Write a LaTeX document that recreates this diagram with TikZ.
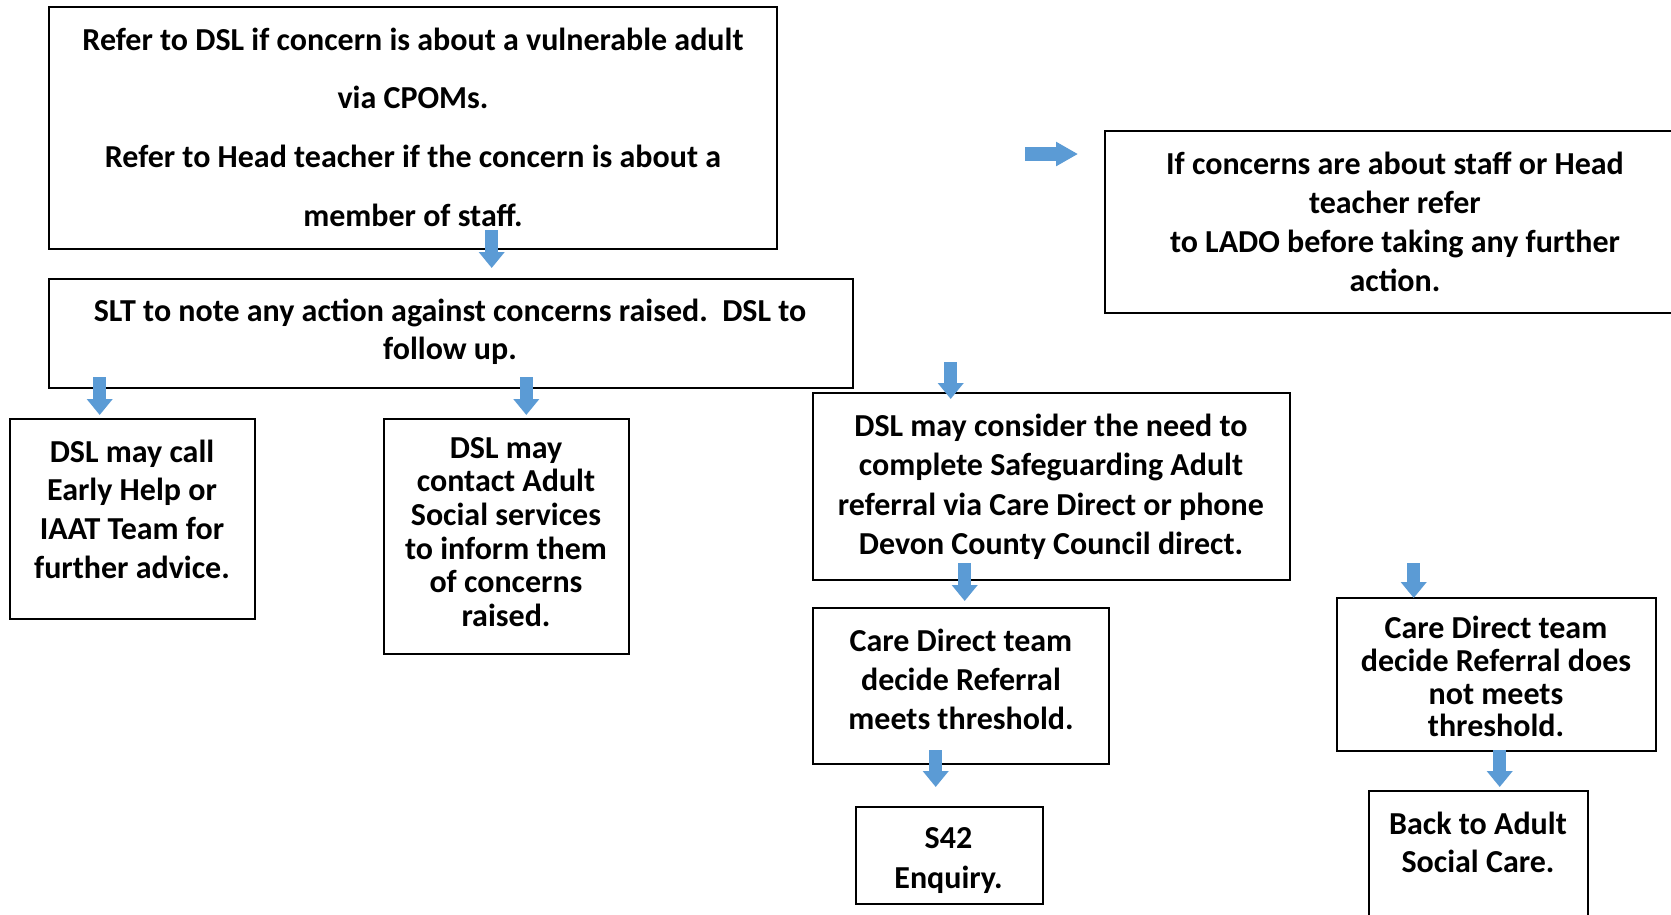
\documentclass[tikz,border=0pt]{standalone}
\usepackage{fontspec}
\setmainfont{Carlito}
\usetikzlibrary{arrows.meta}
\definecolor{arrowblue}{RGB}{91,155,213}
\newcommand{\fs}[1]{\bfseries\fontsize{32}{#1}\selectfont}
\begin{document}
\begin{tikzpicture}[x=1pt,y=-1pt,
  box/.style={draw=black, line width=2pt, inner sep=0pt, rectangle},
  txt/.style={align=center, inner sep=0pt, text=black},
  blockarrow/.style={draw=arrowblue, line width=13pt, -{Triangle[width=25pt,length=16pt]}},
  rightarrow/.style={draw=arrowblue, line width=14pt, -{Triangle[width=23pt,length=22pt]}}]
\useasboundingbox (0,0) rectangle (1671,914);
\fill[white] (0,0) rectangle (1671,914);
\clip (0,0) rectangle (1671,914);

% boxes
\node[box, minimum width=728pt, minimum height=242pt] (b1) at (413,128) {};
\node[box, minimum width=804pt, minimum height=109pt] (slt) at (451,333.5) {};
\node[box, minimum width=595pt, minimum height=182pt] (lado) at (1402.5,222) {};
\node[box, minimum width=245pt, minimum height=200pt] (bA) at (132.5,519) {};
\node[box, minimum width=245pt, minimum height=235pt] (bB) at (506.5,536.5) {};
\node[box, minimum width=477pt, minimum height=187pt] (bC) at (1051.5,486.5) {};
\node[box, minimum width=296pt, minimum height=156pt] (bD) at (961,686) {};
\node[box, minimum width=187pt, minimum height=97pt] (bE) at (949.5,855.5) {};
\node[box, minimum width=319pt, minimum height=153pt] (bF) at (1496.5,674.5) {};
\node[box, minimum width=219pt, minimum height=159pt] (bG) at (1478.5,870.5) {};

% texts
\node[txt, font=\fs{58.6}] (t1) at (413,127) {Refer to DSL if concern is about a vulnerable adult\\via CPOMs.\\Refer to Head teacher if the concern is about a\\member of staff.};
\node[txt, font=\fs{38.4}] (tslt) at (450,332) {SLT to note any action against concerns raised.\ \ DSL to\\follow up.};
\node[txt, font=\fs{39}] (tlado) at (1395,221.5) {If concerns are about staff or Head\\teacher refer\\to LADO before taking any further\\action.};
\node[txt, font=\fs{38.7}] (tA) at (132,509) {DSL may call\\Early Help or\\IAAT Team for\\further advice.};
\node[txt, font=\fs{33.6}] (tB) at (506,532) {DSL may\\contact Adult\\Social services\\to inform them\\of concerns\\raised.};
\node[txt, font=\fs{39.1}] (tC) at (1051,486.8) {DSL may consider the need to\\complete Safeguarding Adult\\referral via Care Direct or phone\\Devon County Council direct.};
\node[txt, font=\fs{38.9}] (tD) at (961,679) {Care Direct team\\decide Referral\\meets threshold.};
\node[txt, font=\fs{39.4}] (tE) at (948.5,860.5) {S42\\Enquiry.};
\node[txt, font=\fs{32.7}] (tF) at (1496,676.7) {Care Direct team\\decide Referral does\\not meets\\threshold.};
\node[txt, font=\fs{38.4}] (tG) at (1478,842.5) {Back to Adult\\Social Care.};

% arrow end points
\coordinate (a1s) at (491.7,230);  \coordinate (a1e) at (491.7,268);
\coordinate (aRs) at (1025,154);   \coordinate (aRe) at (1078,154);
\coordinate (aAs) at (99.7,377);   \coordinate (aAe) at (99.7,415);
\coordinate (aBs) at (526.3,377);  \coordinate (aBe) at (526.3,415);
\coordinate (aCs) at (950.7,362);  \coordinate (aCe) at (950.7,399);
\coordinate (aDs) at (964.7,563);  \coordinate (aDe) at (964.7,601);
\coordinate (aEs) at (935.7,750);  \coordinate (aEe) at (935.7,787);
\coordinate (aFs) at (1413.7,563); \coordinate (aFe) at (1413.7,598);
\coordinate (aGs) at (1499.7,750); \coordinate (aGe) at (1499.7,787);

\draw[blockarrow] (a1s) -- (a1e);
\draw[rightarrow] (aRs) -- (aRe);
\draw[blockarrow] (aAs) -- (aAe);
\draw[blockarrow] (aBs) -- (aBe);
\draw[blockarrow] (aCs) -- (aCe);
\draw[blockarrow] (aDs) -- (aDe);
\draw[blockarrow] (aEs) -- (aEe);
\draw[blockarrow] (aFs) -- (aFe);
\draw[blockarrow] (aGs) -- (aGe);
\end{tikzpicture}
\end{document}
